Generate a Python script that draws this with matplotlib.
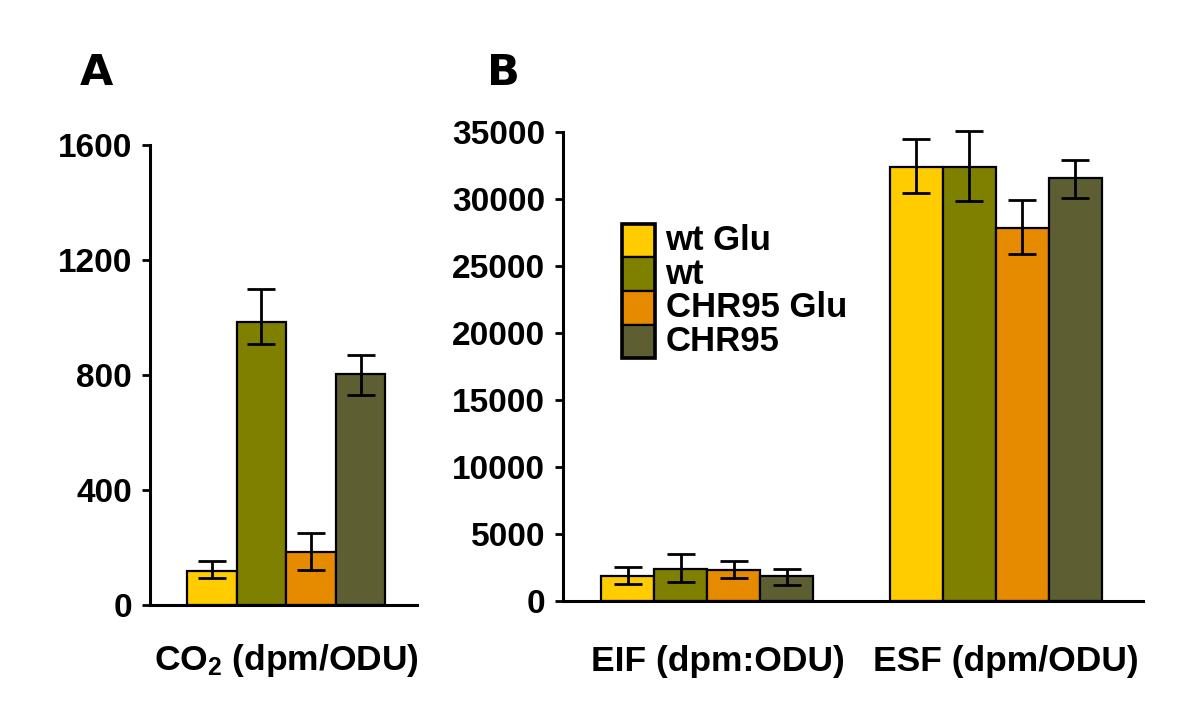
import matplotlib
matplotlib.use("Agg")
import matplotlib.pyplot as plt
from matplotlib.patches import Rectangle

plt.rcParams['font.family'] = ['Liberation Sans', 'DejaVu Sans']
plt.rcParams['font.weight'] = 'bold'
plt.rcParams['mathtext.fontset'] = 'custom'
plt.rcParams['mathtext.rm'] = 'Liberation Sans:bold'
plt.rcParams['mathtext.bf'] = 'Liberation Sans:bold'
plt.rcParams['mathtext.default'] = 'regular'

# series (same order in both panels)
strains = ['wt Glu', 'wt', 'CHR95 Glu', 'CHR95']
colors = ['#FFCC00', '#808000', '#E68A00', '#5E5E33']

# panel A: CO2
co2 = [119, 985, 184, 803]
co2_lo = [94, 909, 122, 730]
co2_hi = [152, 1099, 251, 871]

# panel B: EIF and ESF
eif = [1870, 2410, 2350, 1870]
eif_lo = [1290, 1410, 1750, 1200]
eif_hi = [2560, 3520, 2980, 2410]
esf = [32390, 32390, 27840, 31570]
esf_lo = [30450, 29850, 25900, 30075]
esf_hi = [34480, 35075, 29925, 32910]

a_ticks = [0, 400, 800, 1200, 1600]
b_ticks = [0, 5000, 10000, 15000, 20000, 25000, 30000, 35000]

FS = 24

fig = plt.figure(figsize=(12, 7.21), dpi=100)
axA = fig.add_axes([0.125, 0.1609, 0.2225, 0.638])
axB = fig.add_axes([0.4692, 0.1664, 0.4833, 0.6505])


def style(ax, xpad):
    for s in ['top', 'right']:
        ax.spines[s].set_visible(False)
    for s in ['left', 'bottom']:
        ax.spines[s].set_linewidth(2.2)
    ax.tick_params(axis='y', direction='out', length=6, width=2, pad=7, labelsize=FS)
    ax.tick_params(axis='x', length=0, pad=xpad, labelsize=25.5)


def draw_group(ax, x0, vals, lo, hi):
    xs = [x0 + i for i in range(len(vals))]
    ax.bar(xs, vals, width=1.0, color=colors, edgecolor='black', linewidth=1.6, zorder=2)
    yerr = [[v - l for v, l in zip(vals, lo)], [h - v for v, h in zip(vals, hi)]]
    eb = ax.errorbar(xs, vals, yerr=yerr, fmt='none', ecolor='black', elinewidth=2,
                     capsize=10, capthick=2, zorder=3)
    for art in eb.lines[1] + eb.lines[2]:
        art.set_clip_on(False)
    return sum(xs) / len(xs)


# panel A
cA = draw_group(axA, 1.25, co2, co2_lo, co2_hi)
axA.set_xlim(0, 5.39)
axA.set_ylim(0, 1600)
axA.set_yticks(a_ticks)
axA.set_xticks([cA])
axA.set_xticklabels(['CO$_2$ (dpm/ODU)'])
style(axA, 27)

# panel B
c1 = draw_group(axB, 1.217, eif, eif_lo, eif_hi)
c2 = draw_group(axB, 6.66, esf, esf_lo, esf_hi)
axB.set_xlim(0, 10.94)
axB.set_ylim(0, 35000)
axB.set_yticks(b_ticks)
axB.set_xticks([c1 + 0.2, c2 + 0.2])
axB.set_xticklabels(['EIF (dpm:ODU)', 'ESF (dpm/ODU)'])
style(axB, 32)

# legend drawn as stacked swatches
lx, lw = 0.1017, 0.057
ltop, lh = 0.804, 0.0715
for i, (name, col) in enumerate(zip(strains, colors)):
    y = ltop - (i + 1) * lh
    axB.add_patch(Rectangle((lx, y), lw, lh, transform=axB.transAxes,
                            facecolor=col, edgecolor='black', linewidth=1.6,
                            clip_on=False, zorder=4))
    axB.text(lx + lw + 0.018, y + lh / 2, name, transform=axB.transAxes,
             fontsize=25, va='center', ha='left', zorder=5)
axB.add_patch(Rectangle((lx, ltop - 4 * lh), lw, 4 * lh, transform=axB.transAxes,
                        facecolor='none', edgecolor='black', linewidth=2.6,
                        clip_on=False, zorder=5))

# panel letters
fig.text(80 / 1200, 1 - 73 / 721, 'A', fontsize=31, fontweight='heavy',
         family=['DejaVu Sans'], va='center', ha='left')
fig.text(487 / 1200, 1 - 73 / 721, 'B', fontsize=31, fontweight='heavy',
         family=['DejaVu Sans'], va='center', ha='left')

fig.savefig('out.png', dpi=100)
